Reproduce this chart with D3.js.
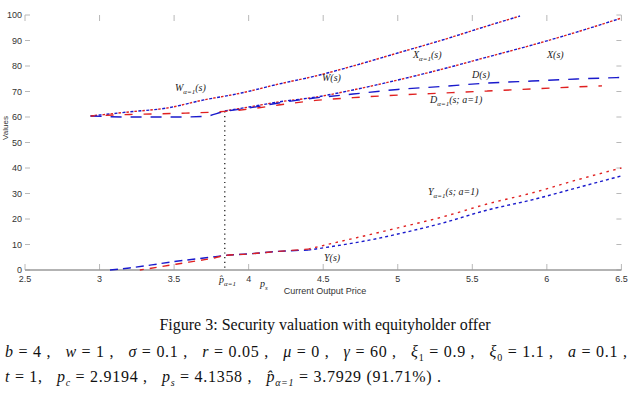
<!DOCTYPE html>
<html><head><meta charset="utf-8">
<script src="https://cdn.jsdelivr.net/npm/d3@7"></script>
<style>body{margin:0;background:#fff}text{white-space:pre}</style>
</head><body>
<svg id="c" width="634" height="407"></svg>
<script>
// ---- data ----
const xTicks = [2.5, 3, 3.5, 4, 4.5, 5, 5.5, 6, 6.5];
const yTicks = [0, 10, 20, 30, 40, 50, 60, 70, 80, 90, 100];
const pHat = 3.84;

const sW = [2.94, 3.2, 3.45, 3.7, 3.95, 4.2, 4.45, 4.7, 5.0, 5.3, 5.6, 5.82];
const vW = [60.4, 62.0, 63.5, 66.7, 69.4, 72.9, 76.1, 80.0, 85.1, 90.2, 95.7, 99.6];

const sX = [3.84, 4.0, 4.2, 4.45, 4.7, 5.0, 5.3, 5.6, 5.9, 6.2, 6.5];
const vX = [62.4, 63.9, 65.9, 67.8, 70.6, 74.5, 78.8, 83.5, 88.2, 93.3, 98.8];

const sD = [2.94, 3.2, 3.5, 3.7, 3.84, 4.0, 4.2, 4.45, 4.7, 5.0, 5.3, 5.6, 5.9, 6.2, 6.5];
const vD = [60.4, 60.0, 60.0, 60.2, 62.2, 63.5, 65.5, 67.5, 69.0, 70.8, 72.0, 73.3, 74.1, 74.9, 75.5];

const sDa = [2.94, 3.2, 3.5, 3.84, 4.0, 4.2, 4.45, 4.7, 5.0, 5.3, 5.6, 5.9, 6.2, 6.37];
const vDa = [60.4, 61.0, 61.4, 62.2, 63.1, 64.7, 66.5, 67.6, 68.6, 69.4, 70.2, 71.0, 71.8, 72.2];

const sY = [3.07, 3.2, 3.35, 3.5, 3.7, 3.84, 4.0, 4.2, 4.4, 4.6, 4.8, 5.0, 5.3, 5.6, 5.9, 6.2, 6.5];
const vY = [0, 0.8, 2.0, 3.3, 4.7, 5.7, 6.3, 7.3, 7.8, 9.6, 11.6, 14.1, 18.4, 23.5, 27.5, 32.2, 36.9];

const sYa = [3.27, 3.4, 3.6, 3.75, 3.84, 4.0, 4.2, 4.4, 4.6, 4.8, 5.0, 5.3, 5.6, 5.9, 6.2, 6.5];
const vYa = [0, 1.2, 3.1, 4.5, 5.7, 6.3, 7.3, 8.2, 11.0, 13.7, 16.5, 20.8, 25.9, 30.2, 35.3, 40.0];

// ---- drawing ----
const svg = d3.select("#c");
svg.append("rect").attr("width",634).attr("height",407).attr("fill","#fff");
const x = d3.scaleLinear().domain([2.5, 6.5]).range([25, 621.4]);
const y = d3.scaleLinear().domain([0, 100]).range([270, 15]);
const BLUE = "#1a1acc", RED = "#e02020";

// ticks
const tk = svg.append("g").attr("stroke","#b8b8b8").attr("stroke-width",1);
yTicks.forEach(t => {
  tk.append("line").attr("x1",x(2.5)).attr("x2",x(2.5)+5).attr("y1",y(t)).attr("y2",y(t));
  tk.append("line").attr("x1",x(6.5)).attr("x2",x(6.5)-5).attr("y1",y(t)).attr("y2",y(t));
});
xTicks.forEach(t => {
  tk.append("line").attr("x1",x(t)).attr("x2",x(t)).attr("y1",y(0)).attr("y2",y(0)-6);
  tk.append("line").attr("x1",x(t)).attr("x2",x(t)).attr("y1",y(100)).attr("y2",y(100)+6);
});
// bottom axis
svg.append("line").attr("x1",x(2.5)).attr("x2",x(6.5)).attr("y1",y(0)).attr("y2",y(0))
  .attr("stroke","#9a9a9a").attr("stroke-width",1.6);

// tick labels
const tl = svg.append("g").attr("font-family","Liberation Sans, Arial, sans-serif").attr("font-size",9).attr("fill","#333");
yTicks.forEach(t => tl.append("text").attr("x",22).attr("y",y(t)+3).attr("text-anchor","end").text(t));
xTicks.forEach(t => tl.append("text").attr("x",x(t)).attr("y",282).attr("text-anchor","middle").text(t));
tl.append("text").attr("x",325).attr("y",294).attr("text-anchor","middle").text("Current Output Price");
tl.append("text").attr("transform","translate(8,128) rotate(-90)").attr("text-anchor","middle").attr("font-size",8).text("Values");

// p-hat vertical line
svg.append("line").attr("x1",x(pHat)).attr("x2",x(pHat)).attr("y1",y(62.2)).attr("y2",y(0))
  .attr("stroke","#111").attr("stroke-width",1.2).attr("stroke-dasharray","1.2,3.5");

const line = d3.line().x(d=>x(d[0])).y(d=>y(d[1])).curve(d3.curveMonotoneX);
const zip = (a,b) => a.map((v,i)=>[v,b[i]]);
function draw(pts, color, dash, offset){
  svg.append("path").attr("d", line(pts)).attr("fill","none").attr("stroke",color)
    .attr("stroke-width",1.4).attr("stroke-dasharray",dash).attr("stroke-dashoffset",offset||0);
}
const W = zip(sW,vW), X = zip(sX,vX), D = zip(sD,vD), Da = zip(sDa,vDa), Y = zip(sY,vY), Ya = zip(sYa,vYa);
draw(W, BLUE, "3,5", 0); draw(W, RED, "2.5,5.5", 4);
draw(X, BLUE, "3,5", 0); draw(X, RED, "2.5,5.5", 4);
draw(D, BLUE, "11,9", 0);
draw(Da, RED, "8,11", 4);
draw(Y.filter(d=>d[0]<=4.4), BLUE, "8,5", 0);
draw(Y.filter(d=>d[0]>=4.4), BLUE, "3,3", 0);
draw(Ya.filter(d=>d[0]<=4.4), RED, "7,6", 3);
draw(Ya.filter(d=>d[0]>=4.4), RED, "2.5,4.5", 0);

// curve labels
function label(px, py, main, sub, rest){
  const t = svg.append("text").attr("x",px).attr("y",py).attr("font-family","Liberation Serif, Times New Roman, serif")
    .attr("font-style","italic").attr("font-size",10).attr("fill","#222");
  t.append("tspan").text(main);
  if (sub){ t.append("tspan").attr("dy",3).attr("font-size",7).text(sub); t.append("tspan").attr("dy",-3).text(rest); }
  else t.append("tspan").text(rest);
}
label(175, 91, "W", "α=1", "(s)");
label(322, 81, "W", null, "(s)");
label(413, 58, "X", "α=1", "(s)");
label(547, 58, "X", null, "(s)");
label(472, 78, "D", null, "(s)");
label(430, 103, "D", "α=1", "(s; a=1)");
label(428, 195, "Y", "α=1", "(s; a=1)");
label(324, 261, "Y", null, "(s)");
label(219, 283, "p\u0302", "α=1", "");
label(260, 287, "p", "s", "");

// caption
const serif = "Liberation Serif, Times New Roman, serif";
svg.append("text").attr("x",325).attr("y",330).attr("text-anchor","middle").attr("font-family",serif)
  .attr("font-size",16).attr("fill","#111").text("Figure 3: Security valuation with equityholder offer");

function richLine(px, py, len, segs){
  const t = svg.append("text").attr("x",px).attr("y",py).attr("font-family",serif).attr("font-size",16).attr("fill","#111");
  if (len) t.attr("textLength",len).attr("lengthAdjust","spacing");
  segs.forEach(s => {
    const ts = t.append("tspan").text(s.t);
    if (s.i) ts.attr("font-style","italic");
    if (s.sub){ ts.attr("font-size",10).attr("dy",4); }
    if (s.up){ ts.attr("dy",-4); }
  });
}
richLine(5, 357, 622, [
  {t:"b",i:1},{t:" = 4 ,   "},{t:"w",i:1},{t:" = 1 ,   "},{t:"σ",i:1},{t:" = 0.1 ,   "},
  {t:"r",i:1},{t:" = 0.05 ,   "},{t:"μ",i:1},{t:" = 0 ,   "},{t:"γ",i:1},{t:" = 60 ,   "},
  {t:"ξ",i:1},{t:"1",sub:1},{t:" = 0.9 ,   ",up:1},{t:"ξ",i:1},{t:"0",sub:1},{t:" = 1.1 ,   ",up:1},
  {t:"a",i:1},{t:" = 0.1 ,"}
]);
richLine(5, 382, 436, [
  {t:"t",i:1},{t:" = 1,   "},{t:"p",i:1},{t:"c",i:1,sub:1},{t:" = 2.9194 ,   ",up:1},
  {t:"p",i:1},{t:"s",i:1,sub:1},{t:" = 4.1358 ,   ",up:1},
  {t:"p\u0302",i:1},{t:"α=1",i:1,sub:1},{t:" = 3.7929 (91.71%) .",up:1}
]);
</script></body></html>
